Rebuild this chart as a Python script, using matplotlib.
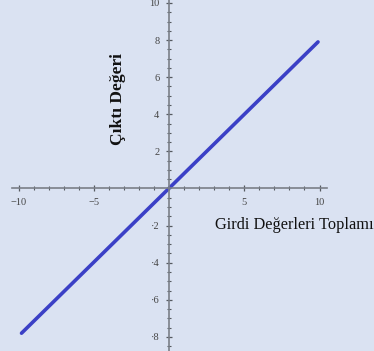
import numpy as np
import matplotlib
matplotlib.use("Agg")
from matplotlib import pyplot as plt
from matplotlib.ticker import MultipleLocator

# line end points
x_vals = [-9.8, 9.9]
y_vals = [-7.8, 7.9]
x_ticks = [-10, -5, 5, 10]
y_ticks = [-8, -6, -4, -2, 2, 4, 6, 8, 10]

bg = "#dae2f2"
fig = plt.figure(figsize=(3.74, 3.51), dpi=100, facecolor=bg)
ax = fig.add_axes([0, 0, 1, 1], facecolor=bg)

ax.plot(x_vals, y_vals, color="#3b40c6", lw=2.6, solid_capstyle="round")

ax.set_xlim(-11.23, 13.62)
ax.set_ylim(-8.76, 10.16)

for s in ["top", "right"]:
    ax.spines[s].set_visible(False)
ax.spines["left"].set_position(("data", 0))
ax.spines["bottom"].set_position(("data", 0))
ax.spines["bottom"].set_bounds(-10.4, 10.5)
for s in ["left", "bottom"]:
    ax.spines[s].set_color("#7a7f88")
    ax.spines[s].set_linewidth(1.2)

ax.set_xticks(x_ticks)
ax.set_xticklabels(["\u221210", "\u22125", "5", "10"])
ax.set_xticks(np.arange(-10, 11), minor=True)
ax.set_yticks(y_ticks)
ax.set_yticklabels([str(v).replace("-", "\u00b7") for v in y_ticks])
ax.yaxis.set_minor_locator(MultipleLocator(0.5))
ax.tick_params(which="major", direction="inout", length=4, width=0.9,
               color="#555a60", labelsize=7.5, labelcolor="#444444", pad=5)
ax.tick_params(which="minor", direction="inout", length=2.5, width=0.8, color="#555a60")
for lab in ax.get_xticklabels() + ax.get_yticklabels():
    lab.set_family("Liberation Serif")

ax.text(-3.4, 4.8, "Çıktı Değeri", rotation=90, ha="center", va="center",
        fontsize=12.5, fontweight="bold", family="Liberation Serif", color="#111111")
ax.text(3.05, -1.95, "Girdi Değerleri Toplamı", ha="left", va="center",
        fontsize=11.8, family="Liberation Serif", color="#111111", clip_on=False)

fig.savefig("out.png", dpi=100, facecolor=bg)
